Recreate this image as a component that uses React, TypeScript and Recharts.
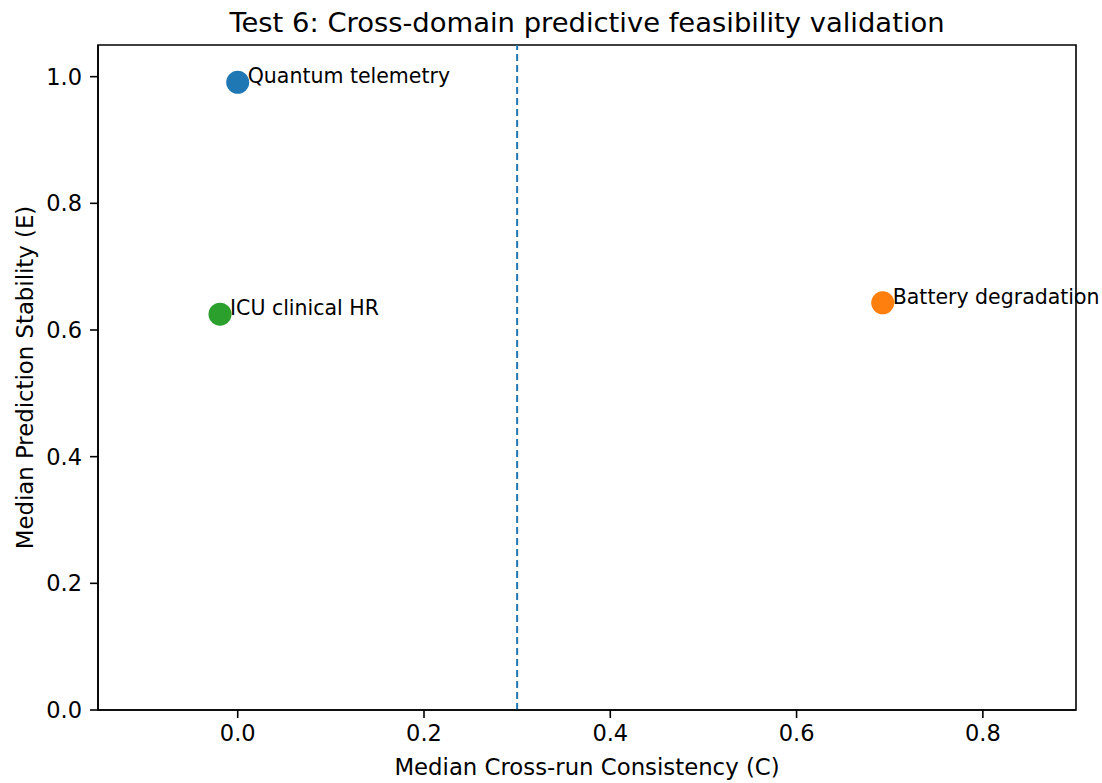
import React from "react";
import {
  ScatterChart,
  Scatter,
  XAxis,
  YAxis,
  ReferenceLine,
  ReferenceArea,
} from "recharts";

const domains = ["Quantum telemetry", "Battery degradation", "ICU clinical HR"];
const consistency = [0.0, 0.6925, -0.019];
const stability = [0.991, 0.643, 0.625];
const colors = ["#1f77b4", "#ff7f0e", "#2ca02c"];
const xTicks = [0.0, 0.2, 0.4, 0.6, 0.8];
const yTicks = [0.0, 0.2, 0.4, 0.6, 0.8, 1.0];
const threshold = 0.3;

const points = domains.map((name, i) => ({
  name,
  x: consistency[i],
  y: stability[i],
  color: colors[i],
}));

const FONT = "DejaVu Sans, sans-serif";
const tickStyle = { fontSize: 22.5, fill: "#000", fontFamily: FONT };

const renderPoint = (props: any) => {
  const { cx, cy, payload } = props;
  return (
    <g>
      <circle cx={cx} cy={cy} r={11.5} fill={payload.color} />
      <text
        x={cx + 10}
        y={cy + 1}
        fontSize={20.5}
        fontFamily={FONT}
        fill="#000"
      >
        {payload.name}
      </text>
    </g>
  );
};

export default function App() {
  return (
    <div
      style={{
        position: "absolute",
        left: 0,
        top: 0,
        width: 1102,
        height: 783,
        background: "#fff",
      }}
    >
      <ScatterChart
        width={1102}
        height={783}
        margin={{ top: 45, right: 26, left: 0, bottom: 0 }}
        style={{ overflow: "visible" }}
      >
        <XAxis
          type="number"
          dataKey="x"
          domain={[-0.15, 0.9]}
          ticks={xTicks}
          tickFormatter={(v: number) => v.toFixed(1)}
          height={73}
          tickSize={8}
          tickMargin={7}
          tick={tickStyle}
          stroke="#000"
          strokeWidth={1.6}
        />
        <YAxis
          type="number"
          dataKey="y"
          domain={[0, 1.05]}
          ticks={yTicks}
          tickFormatter={(v: number) => v.toFixed(1)}
          width={98}
          tickSize={8}
          tickMargin={8}
          tick={tickStyle}
          stroke="#000"
          strokeWidth={1.6}
        />
        <ReferenceArea
          x1={-0.15}
          x2={0.9}
          y1={0}
          y2={1.05}
          fill="none"
          stroke="#000"
          strokeWidth={1.6}
        />
        <ReferenceLine
          x={threshold}
          stroke="#1f77b4"
          strokeWidth={2}
          strokeDasharray="7 4"
        />
        <Scatter
          data={points}
          shape={renderPoint}
          isAnimationActive={false}
        />
      </ScatterChart>
      <svg
        width={1102}
        height={783}
        style={{ position: "absolute", left: 0, top: 0, pointerEvents: "none" }}
      >
        <text
          x={587}
          y={32}
          textAnchor="middle"
          fontSize={27.4}
          fontFamily={FONT}
          fill="#000"
        >
          Test 6: Cross-domain predictive feasibility validation
        </text>
        <text
          x={587}
          y={775}
          textAnchor="middle"
          fontSize={22.8}
          fontFamily={FONT}
          fill="#000"
        >
          Median Cross-run Consistency (C)
        </text>
        <text
          x={33}
          y={377.5}
          textAnchor="middle"
          fontSize={22.8}
          fontFamily={FONT}
          fill="#000"
          transform="rotate(-90, 33, 377.5)"
        >
          Median Prediction Stability (E)
        </text>
      </svg>
    </div>
  );
}
